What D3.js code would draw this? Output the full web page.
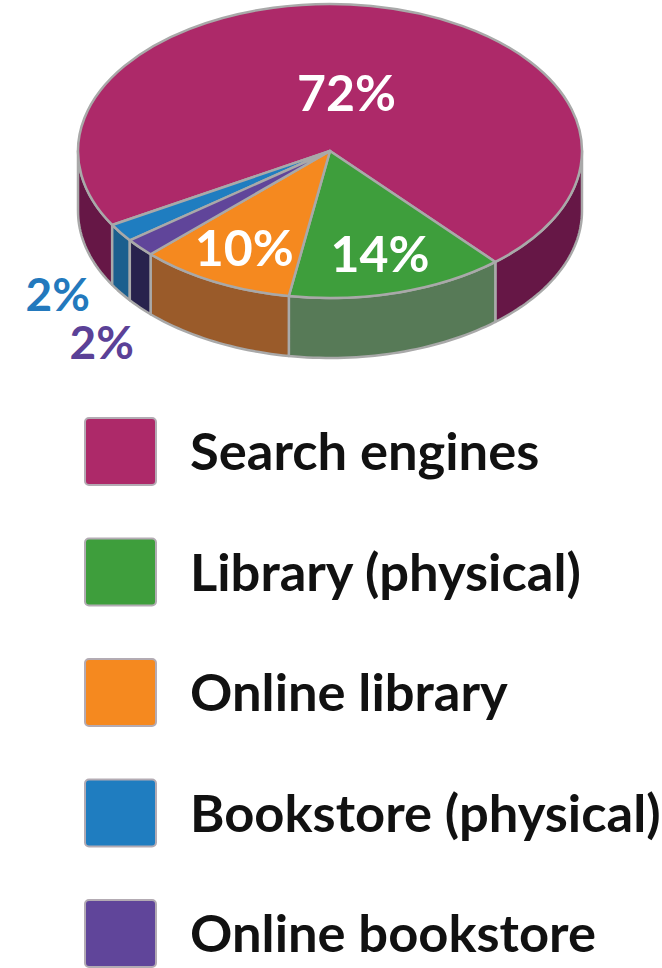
<!DOCTYPE html>
<html>
<head>
<meta charset="utf-8">
<script src="https://cdn.jsdelivr.net/npm/d3@7"></script>
<style>
  body { margin: 0; background: #fff; }
  svg { display: block; }
  text { font-family: Lato, "Liberation Sans", sans-serif; font-weight: 700; }
</style>
</head>
<body>
<svg width="662" height="968"></svg>
<script>
const categories = ["Search engines", "Library (physical)", "Online library", "Bookstore (physical)", "Online bookstore"];
const values = [72, 14, 10, 2, 2];
const valueLabels = ["72%", "14%", "10%", "2%", "2%"];
const topColors = ["#ad2969", "#3e9e3c", "#f5891f", "#1f7dc0", "#60459a"];
const sideColors = ["#661746", "#577a57", "#9a5b2a", "#1b5f8e", "#28224d"];
const labelColors = ["#ffffff", "#ffffff", "#ffffff", "#2379bd", "#5b4197"];
// clockwise order round the pie, starting from the green wedge
const sliceOrder = ["Library (physical)", "Online library", "Online bookstore", "Bookstore (physical)", "Search engines"];

const svg = d3.select("svg");

const cx = 330, cy = 151, rx = 252, ry = 147, depth = 60;
const rim = "#a9a9a9";

const data = categories.map((name, i) => ({
    name: name, value: values[i], label: valueLabels[i],
    top: topColors[i], side: sideColors[i], ink: labelColors[i]
}));

const startAngle = 139 * Math.PI / 180;
const pie = d3.pie()
    .value(d => d.value)
    .sort((a, b) => sliceOrder.indexOf(a.name) - sliceOrder.indexOf(b.name))
    .startAngle(startAngle)
    .endAngle(startAngle + 2 * Math.PI);
const arcs = pie(data);

const proj = (a, r = 1, dz = 0) => [cx + rx * r * Math.sin(a), cy - ry * r * Math.cos(a) + dz];

// front half of the wall is where the angle is between 90 and 270 degrees
function frontParts(a0, a1) {
    const parts = [];
    for (let k = 0; k < 2; k++) {
        const lo = Math.max(a0, Math.PI / 2 + 2 * Math.PI * k);
        const hi = Math.min(a1, 3 * Math.PI / 2 + 2 * Math.PI * k);
        if (hi > lo) parts.push([lo, hi]);
    }
    return parts;
}

const line = d3.line();
const walls = svg.append("g");
arcs.forEach(d => {
    frontParts(d.startAngle, d.endAngle).forEach(([lo, hi]) => {
        const n = Math.max(4, Math.ceil((hi - lo) * 40));
        const angs = d3.range(n + 1).map(i => lo + (hi - lo) * i / n);
        const pts = angs.map(a => proj(a)).concat(angs.slice().reverse().map(a => proj(a, 1, depth)));
        walls.append("path")
            .attr("d", line(pts) + "Z")
            .attr("fill", d.data.side)
            .attr("stroke", rim)
            .attr("stroke-width", 2.5)
            .attr("stroke-linejoin", "round");
    });
});

const arc = d3.arc().innerRadius(0).outerRadius(rx);
svg.append("g")
    .attr("transform", `translate(${cx},${cy}) scale(1,${ry / rx})`)
    .selectAll("path")
    .data(arcs)
    .join("path")
    .attr("d", arc)
    .attr("fill", d => d.data.top)
    .attr("stroke", rim)
    .attr("stroke-width", 2.5)
    .attr("stroke-linejoin", "round")
    .attr("vector-effect", "non-scaling-stroke");

// value labels: inside for the big wedges, stacked outside for the thin ones
const labelPlace = {
    "Search engines": {r: 0.40, dz: 0},
    "Library (physical)": {r: 0.73, dz: 0},
    "Online library": {r: 0.74, dz: 0},
    "Bookstore (physical)": {r: 1.30, dz: 37},
    "Online bookstore": {r: 1.20, dz: 76}
};
svg.append("g")
    .selectAll("text")
    .data(arcs)
    .join("text")
    .attr("transform", d => {
        const p = labelPlace[d.data.name];
        const [x, y] = proj((d.startAngle + d.endAngle) / 2, p.r, p.dz);
        return `translate(${x},${y})`;
    })
    .attr("text-anchor", "middle")
    .attr("dy", "0.36em")
    .attr("font-size", d => d.data.value < 5 ? 46 : 50)
    .attr("fill", d => d.data.ink)
    .text(d => d.data.label);

// legend
const color = d3.scaleOrdinal().domain(categories).range(topColors);
const rowY = d3.scalePoint().domain(categories).range([418, 900]);
const boxW = 71, boxH = 67;
const rows = svg.append("g")
    .selectAll("g")
    .data(categories)
    .join("g")
    .attr("transform", d => `translate(85,${rowY(d)})`);
rows.append("rect")
    .attr("width", boxW)
    .attr("height", boxH)
    .attr("rx", 4)
    .attr("fill", d => color(d))
    .attr("stroke", "#b3abb3")
    .attr("stroke-width", 2);
rows.append("text")
    .attr("x", 105)
    .attr("y", boxH / 2)
    .attr("dy", "0.36em")
    .attr("font-size", 52.5)
    .attr("fill", "#111")
    .text(d => d);
</script>
</body>
</html>
